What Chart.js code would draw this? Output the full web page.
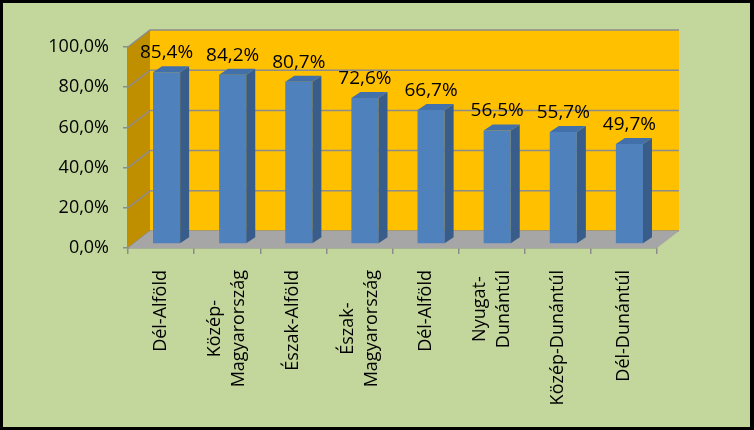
<!DOCTYPE html>
<html>
<head>
<meta charset="utf-8">
<script src="https://cdn.jsdelivr.net/npm/chart.js@4/dist/chart.umd.min.js"></script>
<style>
  html, body { margin: 0; background: #000; }
  canvas { display: block; }
</style>
</head>
<body>
<canvas id="chart" width="754" height="430"></canvas>
<script>
// data
const categories = [
  ['Dél-Alföld'],
  ['Közép-', 'Magyarország'],
  ['Észak-Alföld'],
  ['Észak-', 'Magyarország'],
  ['Dél-Alföld'],
  ['Nyugat-', 'Dunántúl'],
  ['Közép-Dunántúl'],
  ['Dél-Dunántúl']
];
const values = [85.4, 84.2, 80.7, 72.6, 66.7, 56.5, 55.7, 49.7];
const yTicks = [0, 20, 40, 60, 80, 100];

// 3d look
const WALL_DEPTH = { x: 22, y: -17 };
const BAR_SHIFT = { x: 5.5, y: -4 };
const BAR_DEPTH = { x: 9, y: -6 };
const GRID = '#8c8c8c';

Chart.defaults.font.family = '"Open Sans", sans-serif';

function pct(v) {
  return Number(v).toFixed(1).replace('.', ',') + '%';
}

function poly(ctx, pts) {
  ctx.beginPath();
  ctx.moveTo(pts[0][0], pts[0][1]);
  for (let i = 1; i < pts.length; i++) ctx.lineTo(pts[i][0], pts[i][1]);
  ctx.closePath();
  ctx.fill();
}

const scene3d = {
  id: 'scene3d',
  beforeDraw(chart) {
    const ctx = chart.ctx;
    ctx.save();
    ctx.fillStyle = '#000';
    ctx.fillRect(0, 0, chart.width, chart.height);
    ctx.fillStyle = '#c3d69b';
    ctx.fillRect(3, 3, 747, 424);
    ctx.restore();
  },
  beforeDatasetsDraw(chart) {
    const ctx = chart.ctx, a = chart.chartArea, ys = chart.scales.y;
    const dx = WALL_DEPTH.x, dy = WALL_DEPTH.y;
    ctx.save();
    // back wall
    ctx.fillStyle = '#ffc000';
    ctx.fillRect(a.left + dx, a.top + dy, a.right - a.left, a.bottom - a.top);
    // side wall
    ctx.fillStyle = '#bf8f00';
    poly(ctx, [[a.left, a.bottom], [a.left, a.top], [a.left + dx, a.top + dy], [a.left + dx, a.bottom + dy]]);
    // gridlines on both walls
    ctx.strokeStyle = GRID;
    ctx.lineWidth = 1.5;
    yTicks.forEach(v => {
      const py = ys.getPixelForValue(v);
      ctx.beginPath();
      ctx.moveTo(a.left, py);
      ctx.lineTo(a.left + dx, py + dy);
      ctx.lineTo(a.right + dx, py + dy);
      ctx.stroke();
    });
    // floor
    ctx.fillStyle = '#a6a6a6';
    poly(ctx, [[a.left, a.bottom], [a.right, a.bottom], [a.right + dx, a.bottom + dy], [a.left + dx, a.bottom + dy]]);
    ctx.restore();

    ctx.save();
    ctx.translate(BAR_SHIFT.x, BAR_SHIFT.y);
  },
  afterDatasetsDraw(chart) {
    const ctx = chart.ctx;
    const bars = chart.getDatasetMeta(0).data;
    const bx = BAR_DEPTH.x, by = BAR_DEPTH.y;
    bars.forEach((bar, i) => {
      const l = bar.x - bar.width / 2, r = bar.x + bar.width / 2;
      ctx.fillStyle = '#385d8a';
      poly(ctx, [[r, bar.y], [r + bx, bar.y + by], [r + bx, bar.base + by], [r, bar.base]]);
      ctx.fillStyle = '#4270aa';
      poly(ctx, [[l, bar.y], [r, bar.y], [r + bx, bar.y + by], [l + bx, bar.y + by]]);
      ctx.fillStyle = '#000';
      ctx.font = '19px "Open Sans"';
      ctx.textAlign = 'center';
      ctx.textBaseline = 'alphabetic';
      ctx.fillText(pct(values[i]), bar.x, bar.y - 14);
    });
    ctx.restore();
  },
  afterDraw(chart) {
    const ctx = chart.ctx, xs = chart.scales.x;
    ctx.save();
    ctx.fillStyle = '#000';
    ctx.font = '18px "Open Sans"';
    ctx.textAlign = 'center';
    ctx.textBaseline = 'middle';
    categories.forEach((lines, i) => {
      const px = xs.getPixelForValue(i);
      const w = Math.max(...lines.map(t => ctx.measureText(t).width));
      ctx.save();
      ctx.translate(px, xs.top + 22);
      ctx.rotate(-Math.PI / 2);
      lines.forEach((t, k) => ctx.fillText(t, -w / 2, (k - (lines.length - 1) / 2) * 24));
      ctx.restore();
    });
    ctx.restore();
  }
};

new Chart(document.getElementById('chart'), {
  type: 'bar',
  data: {
    labels: categories,
    datasets: [{
      data: values,
      backgroundColor: '#4f81bd',
      borderWidth: 0,
      barPercentage: 0.41,
      categoryPercentage: 1
    }]
  },
  options: {
    responsive: false,
    animation: false,
    layout: { padding: { left: 20, right: 97, top: 47, bottom: 0 } },
    plugins: {
      legend: { display: false },
      tooltip: { enabled: false }
    },
    scales: {
      x: {
        grid: { drawOnChartArea: false, tickLength: 6, color: GRID, lineWidth: 1.5 },
        border: { color: GRID, width: 1.5 },
        ticks: { display: false },
        afterFit: s => { s.height = 182; }
      },
      y: {
        min: 0,
        max: 100,
        grid: { drawOnChartArea: false, tickLength: 5, color: GRID, lineWidth: 1.5 },
        border: { color: GRID, width: 1.5 },
        ticks: {
          padding: 14,
          color: '#000',
          font: { size: 18 },
          callback: v => pct(v)
        },
        afterBuildTicks: s => { s.ticks = yTicks.map(v => ({ value: v })); },
        afterFit: s => { s.width = 108; }
      }
    }
  },
  plugins: [scene3d]
});
</script>
</body>
</html>
